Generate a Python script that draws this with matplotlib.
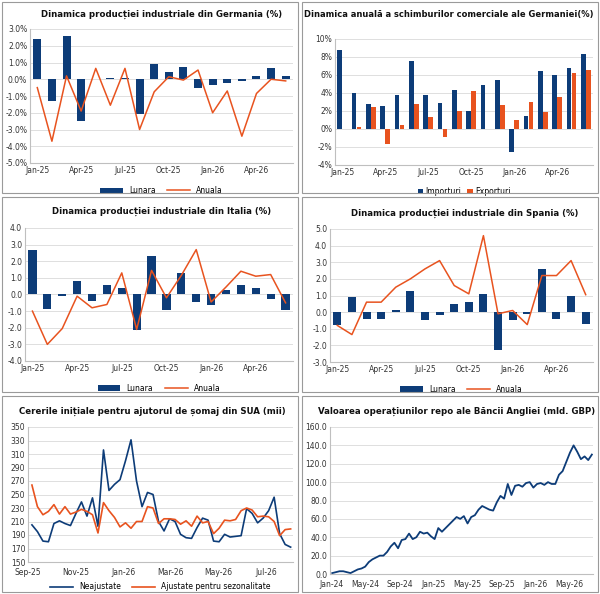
import numpy as np
import pandas as pd
import matplotlib
matplotlib.use("Agg")
import matplotlib.pyplot as plt
import matplotlib.dates as mdates
from matplotlib.patches import Rectangle

BLUE = "#0d3c78"
ORANGE = "#e8531f"

months = ["Jan-25", "Feb-25", "Mar-25", "Apr-25", "May-25", "Jun-25", "Jul-25", "Aug-25", "Sep-25",
          "Oct-25", "Nov-25", "Dec-25", "Jan-26", "Feb-26", "Mar-26", "Apr-26", "May-26", "Jun-26"]

de_lunara = [2.4, -1.3, 2.6, -2.5, 0.0, 0.1, 0.1, -2.05, 0.9, 0.45, 0.75, -0.55, -0.35, -0.2, -0.1, 0.2, 0.65, 0.2]
de_anuala = [-0.5, -3.7, 0.2, -1.9, 0.65, -1.55, 0.65, -3.0, -0.75, 0.15, -0.05, 0.55, -2.0, -0.7, -3.4, -0.85, 0.0, -0.1]

importuri = [8.8, 4.0, 2.8, 2.55, 3.8, 7.6, 3.8, 2.9, 4.3, 1.95, 4.9, 5.5, -2.5, 1.5, 6.45, 6.05, 6.75, 8.35]
exporturi = [0.0, 0.2, 2.5, -1.7, 0.5, 2.75, 1.35, -0.85, 2.0, 4.25, 0.0, 2.7, 1.05, 3.05, 1.85, 3.55, 6.25, 6.55]

it_lunara = [2.7, -0.85, -0.1, 0.8, -0.4, 0.6, 0.4, -2.15, 2.3, -0.95, 1.3, -0.45, -0.65, 0.25, 0.6, 0.4, -0.3, -0.95]
it_anuala = [-1.0, -3.0, -2.05, -0.1, -0.8, -0.6, 1.3, -2.1, 1.45, -0.2, 1.15, 2.7, -0.45, 0.45, 1.4, 1.1, 1.2, -0.5]

es_lunara = [-0.75, 0.9, -0.4, -0.4, 0.1, 1.3, -0.5, -0.15, 0.5, 0.6, 1.1, -2.3, -0.5, -0.1, 2.6, -0.4, 1.0, -0.7]
es_anuala = [-0.8, -1.35, 0.6, 0.6, 1.5, 2.0, 2.6, 3.1, 1.6, 1.1, 4.6, -0.1, 0.1, -0.75, 2.2, 2.2, 3.1, 1.05]

neajustate = [205, 195, 181, 180, 207, 211, 207, 204, 222, 239, 218, 245, 203, 316, 256, 265,
              272, 300, 331, 270, 232, 253, 250, 210, 196, 214, 210, 191, 186, 185, 201, 215,
              212, 181, 180, 191, 187, 188, 189, 229, 222, 208, 215, 226, 246, 192, 176, 172]
ajustate = [264, 232, 220, 225, 235, 221, 232, 221, 224, 228, 225, 220, 193, 238, 226, 216,
            202, 208, 200, 210, 210, 232, 230, 207, 214, 214, 213, 206, 211, 203, 218, 208,
            210, 192, 200, 212, 211, 213, 226, 230, 227, 217, 218, 217, 210, 189, 198, 199]

repo = [1, 2, 3, 3, 2, 1, 3, 5, 6, 8, 13, 16, 18, 20, 20, 24, 30, 34, 28, 37, 38, 44,
        38, 40, 46, 44, 45, 41, 38, 50, 46, 50, 54, 58, 62, 60, 63, 55, 62, 64, 70, 74,
        72, 70, 69, 78, 85, 82, 98, 86, 96, 97, 95, 99, 100, 94, 98, 99, 97, 100, 98, 98,
        108, 112, 122, 132, 140, 133, 125, 128, 124, 130]

W, H = 600, 594


def px_axes(fig, x0, y0, x1, y1):
    return fig.add_axes([x0 / W, 1 - y1 / H, (x1 - x0) / W, (y1 - y0) / H])


def title(fig, text, xc, y, size=6.2):
    fig.text(xc / W, 1 - y / H, text, ha="center", va="center", fontsize=size,
             fontweight="bold", color="#111111")


def style(ax, ymin, ymax, step, fmt):
    ax.set_ylim(ymin, ymax)
    ax.set_yticks(np.arange(ymin, ymax + step / 2, step))
    ax.yaxis.set_major_formatter(plt.FuncFormatter(lambda v, p: fmt.format(v)))
    ax.grid(axis="y", color="#d9d9d9", lw=0.6)
    ax.set_axisbelow(True)
    for s in ["top", "right"]:
        ax.spines[s].set_visible(False)
    ax.spines["left"].set_color("#bfbfbf")
    ax.spines["bottom"].set_color("#bfbfbf")
    ax.tick_params(labelsize=5.5, length=0, colors="#333333", pad=2)


def month_panel(fig, rect, bars, line, ymin, ymax, step, fmt):
    ax = px_axes(fig, *rect)
    x = np.arange(len(months))
    b = ax.bar(x, bars, width=0.55, color=BLUE)
    l, = ax.plot(x, line, color=ORANGE, lw=1.1)
    ax.set_xlim(-0.5, len(months) - 0.5)
    ax.set_xticks(x[::3])
    ax.set_xticklabels(months[::3])
    style(ax, ymin, ymax, step, fmt)
    ax.legend([b, l], ["Lunara", "Anuala"], loc="upper center", bbox_to_anchor=(0.5, -0.12),
              ncol=2, frameon=False, fontsize=5.5, handlelength=3, columnspacing=1.5)
    return ax


fig = plt.figure(figsize=(6, 5.94), dpi=100)
for (x0, y0, x1, y1) in [(2, 2, 298, 193), (302, 2, 598, 193), (2, 197, 298, 392),
                         (302, 197, 598, 392), (2, 396, 298, 592), (302, 396, 598, 592)]:
    fig.add_artist(Rectangle((x0 / W, 1 - y1 / H), (x1 - x0) / W, (y1 - y0) / H,
                             transform=fig.transFigure, fill=False, ec="#9a9a9a", lw=0.8))

month_panel(fig, (30, 29, 293, 163), de_lunara, de_anuala, -5, 3, 1, "{:.1f}%")
title(fig, "Dinamica producției industriale din Germania (%)", 162, 14)

ax = px_axes(fig, 335, 39, 593, 165)
x = np.arange(len(months))
ax.bar(x - 0.17, importuri, width=0.32, color=BLUE, label="Importuri")
ax.bar(x + 0.17, exporturi, width=0.32, color=ORANGE, label="Exporturi")
ax.set_xlim(-0.5, len(months) - 0.5)
ax.set_xticks(x[::3])
ax.set_xticklabels(months[::3])
style(ax, -4, 10, 2, "{:.0f}%")
ax.legend(loc="upper center", bbox_to_anchor=(0.5, -0.12), ncol=2, frameon=False,
          fontsize=5.5, handlelength=0.7, handletextpad=0.3, columnspacing=0.8)
title(fig, "Dinamica anuală a schimburilor comerciale ale Germaniei(%)", 449, 15, 6.0)

month_panel(fig, (25, 228, 293, 361), it_lunara, it_anuala, -4, 4, 1, "{:.1f}")
title(fig, "Dinamica producției industriale din Italia (%)", 162, 211)
month_panel(fig, (330, 229, 593, 362), es_lunara, es_anuala, -3, 5, 1, "{:.1f}")
title(fig, "Dinamica producției industriale din Spania (%)", 465, 213)

# US jobless claims, weekly
ax = px_axes(fig, 28, 427, 293, 562)
wk = pd.date_range("2025-09-06", periods=len(neajustate), freq="7D")
ax.plot(wk, neajustate, color=BLUE, lw=1.2, label="Neajustate")
ax.plot(wk, ajustate, color=ORANGE, lw=1.2, label="Ajustate pentru sezonalitate")
ax.set_xlim(pd.Timestamp("2025-09-01"), wk[-1] + pd.Timedelta(days=3))
ax.xaxis.set_major_locator(mdates.MonthLocator(bymonth=[1, 3, 5, 7, 9, 11]))
ax.xaxis.set_major_formatter(mdates.DateFormatter("%b-%y"))
style(ax, 150, 350, 20, "{:.0f}")
ax.tick_params(axis="x", pad=4)
ax.legend(loc="upper center", bbox_to_anchor=(0.5, -0.1), ncol=2, frameon=False,
          fontsize=5.5, handlelength=3, columnspacing=1.5)
title(fig, "Cererile inițiale pentru ajutorul de șomaj din SUA (mii)", 152, 411)

# BoE repo
ax = px_axes(fig, 330, 427, 593, 574)
dts = pd.to_datetime(np.linspace(pd.Timestamp("2024-01-05").value,
                                 pd.Timestamp("2026-07-20").value, len(repo)))
ax.plot(dts, repo, color=BLUE, lw=1.3)
ax.set_xlim(pd.Timestamp("2023-12-28"), pd.Timestamp("2026-07-24"))
ax.xaxis.set_major_locator(mdates.MonthLocator(bymonth=[1, 5, 9]))
ax.xaxis.set_major_formatter(mdates.DateFormatter("%b-%y"))
style(ax, 0, 160, 20, "{:.1f}")
ax.tick_params(axis="x", pad=4)
title(fig, "Valoarea operațiunilor repo ale Băncii Angliei (mld. GBP)", 457, 411)

fig.savefig("out.png", dpi=100)
